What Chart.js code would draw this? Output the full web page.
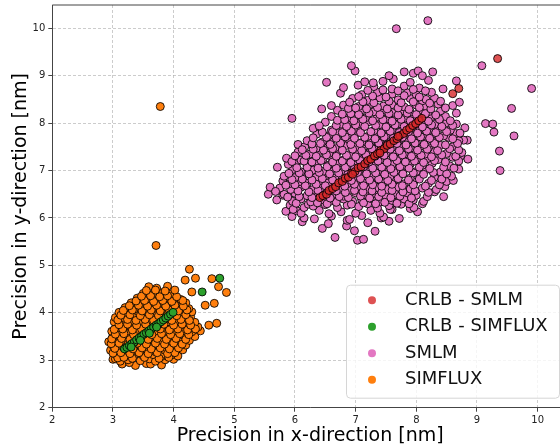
<!DOCTYPE html>
<html>

<head>
    <title>Precision scatter</title>
    <script src="https://cdn.jsdelivr.net/npm/chart.js"></script>
    <style>
        body {
            margin: 0;
            background: #fff;
        }

        .wrap {
            width: 560px;
            height: 447px;
            overflow: hidden;
        }
    </style>
</head>

<body>
    <div class="wrap">
        <canvas id="precisionChart" width="573" height="447"></canvas>
    </div>

    <script>
        const xTicks = [2, 3, 4, 5, 6, 7, 8, 9, 10];
        const yTicks = [2, 3, 4, 5, 6, 7, 8, 9, 10];
        const seriesNames = ["CRLB - SMLM", "CRLB - SIMFLUX", "SMLM", "SIMFLUX"];
        const seriesColors = ["rgba(214, 39, 40, 0.8)", "#2ca02c", "#e377c2", "#ff7f0e"];

        // [x precision, y precision] in nm
        const crlbSmlm = [
            [6.41, 6.43], [6.46, 6.47], [6.52, 6.50], [6.56, 6.58], [6.62, 6.62], [6.67, 6.66], [6.72, 6.74],
            [6.78, 6.77], [6.83, 6.84], [6.88, 6.86], [6.93, 6.94], [6.99, 6.98], [7.04, 7.06], [7.09, 7.08],
            [7.15, 7.14], [7.20, 7.21], [7.25, 7.24], [7.31, 7.31], [7.36, 7.35], [7.41, 7.42], [7.47, 7.46],
            [7.52, 7.53], [7.57, 7.56], [7.63, 7.63], [7.68, 7.67], [7.73, 7.74], [7.79, 7.78], [7.84, 7.85],
            [7.89, 7.89], [7.94, 7.95], [7.99, 7.99], [8.04, 8.05], [8.09, 8.10], [6.95, 6.92], [7.40, 7.37],
            [7.70, 7.72], [8.60, 8.62], [8.70, 8.73], [9.34, 9.36]
        ];

        const crlbSimflux = [
            [3.19, 3.24], [3.23, 3.27], [3.27, 3.31], [3.31, 3.35], [3.35, 3.38], [3.39, 3.43], [3.43, 3.47],
            [3.47, 3.50], [3.51, 3.55], [3.55, 3.58], [3.59, 3.62], [3.63, 3.66], [3.67, 3.70], [3.71, 3.74],
            [3.75, 3.77], [3.79, 3.81], [3.83, 3.85], [3.87, 3.89], [3.91, 3.93], [3.95, 3.97], [3.99, 4.01],
            [3.30, 3.28], [3.45, 3.42], [3.60, 3.57], [3.72, 3.70], [4.47, 4.44], [4.76, 4.73]
        ];

        const smlm = [
            [6.66, 5.59], [7.03, 5.53], [7.13, 5.55],
            [6.45, 5.78], [6.98, 5.73], [7.32, 5.72], [6.85, 5.83],
            [6.12, 5.92], [6.55, 5.88], [6.86, 5.95], [7.20, 5.90], [7.55, 5.93], [7.42, 6.00],
            [5.95, 6.03], [6.15, 6.00], [6.32, 5.98], [6.60, 6.04], [6.90, 5.97], [7.10, 6.05], [7.46, 6.02], [7.72, 5.99], [7.90, 6.20],
            [5.85, 6.14], [6.03, 6.15], [6.10, 6.10], [6.40, 6.16], [6.56, 6.09], [6.76, 6.13], [7.00, 6.10], [7.25, 6.16], [7.40, 6.10], [7.60, 6.18], [8.02, 6.13], [7.57, 6.18],
            [5.92, 6.27], [5.97, 6.18], [6.15, 6.22], [6.22, 6.29], [6.30, 6.25], [6.50, 6.28], [6.70, 6.22], [6.86, 6.27], [7.05, 6.24], [7.20, 6.30], [7.36, 6.21], [7.55, 6.26], [7.75, 6.29], [7.96, 6.22], [8.10, 6.30],
            [5.70, 6.38], [5.96, 6.35], [6.10, 6.40], [6.26, 6.34], [6.45, 6.39], [6.60, 6.36], [6.80, 6.40], [6.95, 6.35], [7.10, 6.38], [7.26, 6.41], [7.41, 6.34], [7.60, 6.37], [7.80, 6.40], [7.95, 6.38], [8.12, 6.35], [8.45, 6.45],
            [5.56, 6.50], [5.59, 6.65], [5.80, 6.48], [5.82, 6.50], [6.00, 6.52], [6.20, 6.47], [6.35, 6.53], [6.50, 6.49], [6.65, 6.51], [6.80, 6.46], [7.00, 6.53], [7.16, 6.49], [7.30, 6.52], [7.50, 6.47], [7.66, 6.50], [7.85, 6.53], [8.00, 6.48], [8.30, 6.55],
            [5.75, 6.63], [5.93, 6.60], [6.10, 6.65], [6.30, 6.60], [6.45, 6.64], [6.60, 6.58], [6.75, 6.63], [6.90, 6.60], [7.06, 6.66], [7.20, 6.61], [7.36, 6.64], [7.52, 6.60], [7.70, 6.65], [7.90, 6.61], [8.10, 6.63], [8.33, 6.60], [8.47, 6.66],
            [5.80, 6.78], [5.90, 6.72], [6.06, 6.76], [6.20, 6.73], [6.40, 6.78], [6.55, 6.74], [6.70, 6.77], [6.86, 6.72], [7.00, 6.76], [7.15, 6.73], [7.31, 6.78], [7.45, 6.74], [7.62, 6.77], [7.80, 6.72], [7.96, 6.76], [8.20, 6.73], [8.50, 6.77], [8.61, 6.79],
            [5.82, 6.88], [6.00, 6.85], [6.15, 6.90], [6.35, 6.86], [6.50, 6.89], [6.66, 6.84], [6.80, 6.90], [6.96, 6.86], [7.10, 6.89], [7.26, 6.85], [7.40, 6.90], [7.56, 6.86], [7.71, 6.88], [7.90, 6.84], [8.05, 6.90], [8.30, 6.86], [8.58, 6.88],
            [5.96, 7.02], [6.10, 6.97], [6.30, 7.01], [6.46, 6.98], [6.60, 7.03], [6.76, 6.97], [6.90, 7.01], [7.05, 6.98], [7.20, 7.03], [7.36, 6.97], [7.50, 7.02], [7.66, 6.99], [7.80, 7.03], [8.00, 6.98], [8.16, 7.02], [8.40, 6.97], [8.70, 7.03], [9.38, 7.00],
            [5.71, 7.07], [5.89, 7.13], [6.02, 7.14], [6.20, 7.10], [6.36, 7.15], [6.55, 7.11], [6.70, 7.14], [6.86, 7.09], [7.00, 7.13], [7.15, 7.10], [7.30, 7.15], [7.46, 7.10], [7.60, 7.13], [7.76, 7.09], [7.90, 7.14], [8.10, 7.11], [8.26, 7.15], [8.55, 7.10],
            [5.86, 7.26], [6.10, 7.22], [6.30, 7.27], [6.46, 7.23], [6.60, 7.28], [6.80, 7.22], [6.95, 7.26], [7.10, 7.23], [7.25, 7.28], [7.40, 7.22], [7.56, 7.27], [7.70, 7.23], [7.86, 7.27], [8.00, 7.22], [8.20, 7.26], [8.36, 7.23], [8.60, 7.28], [8.73, 7.30], [8.85, 7.24],
            [6.05, 7.39], [6.25, 7.35], [6.40, 7.40], [6.56, 7.36], [6.70, 7.39], [6.90, 7.34], [7.05, 7.38], [7.20, 7.35], [7.35, 7.40], [7.50, 7.36], [7.66, 7.39], [7.80, 7.34], [7.96, 7.38], [8.15, 7.35], [8.30, 7.40], [8.50, 7.36], [8.75, 7.38], [9.37, 7.41],
            [6.05, 7.55], [6.16, 7.50], [6.35, 7.47], [6.50, 7.52], [6.66, 7.48], [6.85, 7.53], [7.00, 7.49], [7.16, 7.52], [7.30, 7.47], [7.46, 7.53], [7.60, 7.49], [7.76, 7.52], [7.90, 7.47], [8.06, 7.51], [8.20, 7.48], [8.40, 7.53], [8.60, 7.50], [8.84, 7.64], [8.78, 7.64],
            [6.20, 7.63], [6.45, 7.60], [6.60, 7.65], [6.76, 7.61], [6.90, 7.64], [7.10, 7.59], [7.26, 7.63], [7.40, 7.60], [7.56, 7.65], [7.70, 7.61], [7.86, 7.64], [8.00, 7.59], [8.16, 7.63], [8.30, 7.60], [8.53, 7.70], [8.70, 7.63], [9.61, 7.73],
            [6.36, 7.77], [6.55, 7.73], [6.70, 7.78], [6.86, 7.74], [7.00, 7.77], [7.20, 7.72], [7.36, 7.76], [7.50, 7.73], [7.66, 7.78], [7.80, 7.74], [7.96, 7.77], [8.10, 7.72], [8.26, 7.76], [8.45, 7.73], [8.65, 7.78], [9.28, 7.81],
            [6.30, 7.89], [6.60, 7.85], [6.80, 7.90], [6.96, 7.86], [7.10, 7.89], [7.30, 7.84], [7.46, 7.88], [7.60, 7.85], [7.76, 7.90], [7.90, 7.86], [8.06, 7.89], [8.20, 7.84], [8.36, 7.88], [8.56, 7.85], [8.80, 7.90],
            [6.50, 8.02], [6.76, 7.98], [6.90, 8.03], [7.06, 7.99], [7.20, 8.02], [7.40, 7.97], [7.56, 8.01], [7.70, 7.98], [7.86, 8.03], [8.00, 7.99], [8.16, 8.02], [8.30, 7.97], [8.50, 8.01], [8.66, 7.98], [9.14, 7.99], [9.26, 7.98],
            [5.95, 8.10], [6.60, 8.14], [6.86, 8.10], [7.00, 8.15], [7.16, 8.11], [7.36, 8.14], [7.50, 8.09], [7.66, 8.13], [7.80, 8.10], [7.96, 8.15], [8.10, 8.11], [8.26, 8.14], [8.48, 8.14], [8.66, 8.21],
            [6.70, 8.27], [6.95, 8.23], [7.10, 8.28], [7.30, 8.24], [7.46, 8.27], [7.60, 8.22], [7.76, 8.26], [7.90, 8.23], [8.06, 8.28], [8.20, 8.24], [8.40, 8.26], [6.44, 8.30], [9.57, 8.31],
            [6.60, 8.37], [6.80, 8.38], [7.05, 8.35], [7.25, 8.40], [7.46, 8.36], [7.60, 8.39], [7.80, 8.34], [8.00, 8.38], [8.16, 8.35], [8.36, 8.40], [8.60, 8.37], [8.71, 8.44],
            [6.95, 8.52], [7.20, 8.48], [7.40, 8.53], [7.70, 8.49], [7.90, 8.52], [8.10, 8.47], [8.16, 8.50], [8.30, 8.53],
            [6.75, 8.63], [7.10, 8.60], [7.36, 8.65], [7.60, 8.61], [7.85, 8.64], [8.00, 8.60], [8.25, 8.65],
            [6.80, 8.75], [7.04, 8.80], [7.30, 8.77], [7.60, 8.72], [7.80, 8.78], [8.05, 8.74], [8.44, 8.72], [9.90, 8.73],
            [6.52, 8.86], [7.15, 8.87], [7.29, 8.85], [7.45, 8.88], [7.62, 8.93], [7.90, 8.86], [8.20, 8.90], [8.66, 8.89],
            [6.99, 9.10], [7.55, 9.00], [7.80, 9.08], [7.95, 9.05], [8.03, 9.10], [8.27, 9.08], [8.10, 9.00],
            [6.93, 9.21], [9.08, 9.21], [7.67, 9.99], [8.19, 10.16],
            // denser core
            [6.02, 6.31], [6.37, 6.32], [6.53, 6.30], [6.68, 6.33], [6.93, 6.29], [7.13, 6.32], [7.33, 6.30], [7.48, 6.33], [7.68, 6.31], [7.88, 6.30],
            [5.88, 6.44], [6.07, 6.45], [6.28, 6.43], [6.42, 6.46], [6.58, 6.42], [6.73, 6.45], [6.88, 6.43], [7.08, 6.46], [7.23, 6.42], [7.38, 6.45], [7.58, 6.43], [7.73, 6.46], [7.92, 6.42], [8.18, 6.45],
            [5.68, 6.56], [6.05, 6.57], [6.23, 6.55], [6.38, 6.58], [6.53, 6.55], [6.68, 6.57], [6.83, 6.54], [6.98, 6.58], [7.12, 6.55], [7.27, 6.57], [7.43, 6.54], [7.60, 6.58], [7.78, 6.55], [7.98, 6.57], [8.20, 6.54],
            [5.85, 6.69], [6.00, 6.70], [6.17, 6.68], [6.35, 6.71], [6.50, 6.68], [6.67, 6.70], [6.82, 6.67], [6.98, 6.71], [7.13, 6.68], [7.28, 6.70], [7.43, 6.67], [7.60, 6.71], [7.77, 6.68], [7.95, 6.70], [8.15, 6.67], [8.38, 6.70],
            [5.95, 6.81], [6.12, 6.82], [6.28, 6.80], [6.45, 6.83], [6.62, 6.80], [6.78, 6.82], [6.93, 6.79], [7.08, 6.83], [7.23, 6.80], [7.38, 6.82], [7.53, 6.79], [7.70, 6.83], [7.87, 6.80], [8.05, 6.82], [8.25, 6.79], [8.42, 6.82],
            [5.90, 6.94], [6.07, 6.95], [6.23, 6.93], [6.40, 6.96], [6.57, 6.93], [6.72, 6.95], [6.87, 6.92], [7.03, 6.96], [7.18, 6.93], [7.33, 6.95], [7.48, 6.92], [7.63, 6.96], [7.78, 6.93], [7.95, 6.95], [8.12, 6.92], [8.28, 6.96], [8.50, 6.93],
            [6.03, 7.06], [6.20, 7.07], [6.38, 7.05], [6.53, 7.08], [6.68, 7.05], [6.83, 7.07], [6.98, 7.04], [7.13, 7.08], [7.28, 7.05], [7.43, 7.07], [7.58, 7.04], [7.73, 7.08], [7.88, 7.05], [8.05, 7.07], [8.22, 7.04], [8.45, 7.07], [8.62, 7.05],
            [5.95, 7.19], [6.15, 7.20], [6.28, 7.18], [6.43, 7.21], [6.62, 7.18], [6.78, 7.20], [6.92, 7.17], [7.07, 7.21], [7.22, 7.18], [7.37, 7.20], [7.52, 7.17], [7.68, 7.21], [7.82, 7.18], [7.97, 7.20], [8.12, 7.17], [8.30, 7.21], [8.48, 7.18], [8.70, 7.20],
            [6.00, 7.31], [6.18, 7.32], [6.35, 7.30], [6.52, 7.33], [6.68, 7.30], [6.85, 7.32], [7.00, 7.29], [7.17, 7.33], [7.32, 7.30], [7.47, 7.32], [7.62, 7.29], [7.77, 7.33], [7.92, 7.30], [8.08, 7.32], [8.25, 7.29], [8.42, 7.33], [8.65, 7.30],
            [6.12, 7.44], [6.30, 7.45], [6.47, 7.43], [6.62, 7.46], [6.78, 7.43], [6.95, 7.45], [7.10, 7.42], [7.27, 7.46], [7.42, 7.43], [7.57, 7.45], [7.72, 7.42], [7.87, 7.46], [8.02, 7.43], [8.18, 7.45], [8.35, 7.42], [8.55, 7.46], [8.70, 7.43],
            [6.28, 7.56], [6.42, 7.57], [6.58, 7.55], [6.75, 7.58], [6.92, 7.55], [7.07, 7.57], [7.22, 7.54], [7.38, 7.58], [7.53, 7.55], [7.68, 7.57], [7.83, 7.54], [7.98, 7.58], [8.13, 7.55], [8.30, 7.57], [8.48, 7.54], [8.68, 7.57],
            [6.30, 7.69], [6.52, 7.70], [6.68, 7.68], [6.83, 7.71], [6.98, 7.68], [7.15, 7.70], [7.32, 7.67], [7.47, 7.71], [7.62, 7.68], [7.77, 7.70], [7.92, 7.67], [8.07, 7.71], [8.22, 7.68], [8.38, 7.70], [8.60, 7.67],
            [6.45, 7.81], [6.62, 7.82], [6.78, 7.80], [6.93, 7.83], [7.08, 7.80], [7.25, 7.82], [7.42, 7.79], [7.57, 7.83], [7.72, 7.80], [7.87, 7.82], [8.02, 7.79], [8.17, 7.83], [8.32, 7.80], [8.50, 7.82], [8.72, 7.79],
            [6.40, 7.94], [6.68, 7.95], [6.85, 7.93], [7.00, 7.96], [7.15, 7.93], [7.33, 7.95], [7.50, 7.92], [7.65, 7.96], [7.80, 7.93], [7.95, 7.95], [8.10, 7.92], [8.25, 7.96], [8.42, 7.93], [8.60, 7.95],
            [6.70, 8.06], [6.82, 8.07], [6.97, 8.05], [7.12, 8.08], [7.28, 8.05], [7.45, 8.07], [7.60, 8.04], [7.75, 8.08], [7.90, 8.05], [8.05, 8.07], [8.20, 8.04], [8.38, 8.08], [8.56, 8.05],
            [6.78, 8.19], [6.92, 8.20], [7.05, 8.18], [7.22, 8.21], [7.40, 8.18], [7.55, 8.20], [7.70, 8.17], [7.85, 8.21], [8.00, 8.18], [8.15, 8.20], [8.32, 8.17],
            [6.88, 8.31], [7.00, 8.32], [7.18, 8.30], [7.36, 8.33], [7.52, 8.30], [7.70, 8.32], [7.88, 8.29], [8.05, 8.33], [8.24, 8.30], [8.48, 8.32],
            [6.90, 8.44], [7.12, 8.45], [7.30, 8.43], [7.55, 8.46], [7.75, 8.43], [7.95, 8.45], [8.22, 8.42], [8.40, 8.46],
            [7.05, 8.56], [7.28, 8.57], [7.50, 8.55], [7.80, 8.58], [8.05, 8.55],
            [7.20, 8.69], [7.45, 8.70], [7.70, 8.68], [7.95, 8.71], [8.15, 8.68]
        ];

        const simflux = [
            [3.15, 2.92], [3.37, 2.89], [3.55, 2.93], [3.62, 2.92], [3.80, 2.90], [3.27, 2.95],
            [3.00, 3.02], [3.04, 3.03], [3.12, 2.98], [3.25, 3.01], [3.45, 2.99], [3.60, 3.03], [3.70, 2.98], [3.86, 3.01], [4.00, 3.02],
            [3.05, 3.12], [3.20, 3.08], [3.35, 3.11], [3.50, 3.09], [3.66, 3.12], [3.80, 3.08], [3.84, 3.13], [3.96, 3.11], [4.07, 3.09],
            [2.96, 3.21], [3.10, 3.18], [3.25, 3.22], [3.40, 3.19], [3.56, 3.22], [3.70, 3.18], [3.86, 3.21], [4.00, 3.19], [4.15, 3.22],
            [3.00, 3.31], [3.15, 3.28], [3.30, 3.32], [3.46, 3.29], [3.60, 3.32], [3.76, 3.28], [3.90, 3.31], [4.05, 3.29], [4.20, 3.32],
            [2.93, 3.39], [3.05, 3.42], [3.20, 3.38], [3.36, 3.41], [3.50, 3.39], [3.66, 3.42], [3.80, 3.38], [3.96, 3.41], [4.10, 3.39], [4.26, 3.42],
            [3.00, 3.51], [3.12, 3.48], [3.28, 3.52], [3.42, 3.49], [3.58, 3.52], [3.72, 3.48], [3.88, 3.51], [4.02, 3.49], [4.18, 3.52], [4.35, 3.50],
            [2.98, 3.61], [3.10, 3.58], [3.25, 3.62], [3.40, 3.59], [3.55, 3.62], [3.70, 3.58], [3.85, 3.61], [4.00, 3.59], [4.15, 3.62], [4.30, 3.60], [4.44, 3.62],
            [3.05, 3.71], [3.18, 3.68], [3.32, 3.72], [3.48, 3.69], [3.62, 3.72], [3.78, 3.68], [3.92, 3.71], [4.08, 3.69], [4.22, 3.72], [4.40, 3.70], [4.58, 3.74],
            [3.02, 3.81], [3.15, 3.78], [3.30, 3.82], [3.45, 3.79], [3.60, 3.82], [3.75, 3.78], [3.90, 3.81], [4.05, 3.79], [4.20, 3.82], [4.35, 3.80], [4.71, 3.78],
            [3.04, 3.90], [3.20, 3.88], [3.38, 3.92], [3.52, 3.89], [3.68, 3.92], [3.82, 3.88], [3.98, 3.91], [4.12, 3.89], [4.28, 3.92],
            [3.10, 4.01], [3.25, 3.98], [3.42, 4.02], [3.58, 3.99], [3.72, 4.02], [3.88, 3.98], [4.02, 4.01], [4.15, 3.99], [4.30, 4.02],
            [3.20, 4.11], [3.35, 4.08], [3.50, 4.12], [3.65, 4.09], [3.80, 4.12], [3.95, 4.08], [4.10, 4.11], [4.25, 4.09],
            [3.30, 4.21], [3.45, 4.18], [3.60, 4.22], [3.75, 4.19], [3.90, 4.22], [4.05, 4.18], [4.20, 4.21], [4.52, 4.16], [4.67, 4.20],
            [3.40, 4.31], [3.55, 4.28], [3.70, 4.32], [3.85, 4.29], [4.00, 4.32], [4.12, 4.28],
            [3.50, 4.41], [3.65, 4.38], [3.80, 4.42], [3.95, 4.39], [4.30, 4.44], [4.87, 4.43],
            [3.59, 4.55], [3.72, 4.52], [3.90, 4.56], [4.74, 4.55],
            [4.19, 4.69], [4.36, 4.73], [4.63, 4.72],
            [4.26, 4.92], [3.71, 5.42], [3.78, 8.35],
            // denser core
            [3.08, 3.05], [3.18, 3.06], [3.32, 3.04], [3.52, 3.06], [3.76, 3.04], [3.92, 3.06],
            [3.00, 3.15], [3.13, 3.16], [3.28, 3.14], [3.43, 3.16], [3.58, 3.14], [3.73, 3.16], [3.90, 3.14], [4.02, 3.16],
            [3.03, 3.25], [3.18, 3.26], [3.33, 3.24], [3.48, 3.26], [3.63, 3.24], [3.78, 3.26], [3.93, 3.24], [4.08, 3.26],
            [2.97, 3.35], [3.10, 3.36], [3.25, 3.34], [3.40, 3.36], [3.55, 3.34], [3.70, 3.36], [3.85, 3.34], [4.00, 3.36], [4.14, 3.34],
            [2.98, 3.45], [3.14, 3.46], [3.28, 3.44], [3.43, 3.46], [3.58, 3.44], [3.73, 3.46], [3.88, 3.44], [4.04, 3.46], [4.20, 3.44],
            [3.04, 3.55], [3.18, 3.56], [3.34, 3.54], [3.49, 3.56], [3.64, 3.54], [3.80, 3.56], [3.95, 3.54], [4.10, 3.56], [4.25, 3.54],
            [3.02, 3.65], [3.16, 3.66], [3.32, 3.64], [3.47, 3.66], [3.62, 3.64], [3.78, 3.66], [3.93, 3.64], [4.07, 3.66], [4.23, 3.64], [4.36, 3.66],
            [3.10, 3.75], [3.24, 3.76], [3.39, 3.74], [3.54, 3.76], [3.70, 3.74], [3.84, 3.76], [4.00, 3.74], [4.14, 3.76], [4.28, 3.74],
            [3.08, 3.85], [3.24, 3.86], [3.38, 3.84], [3.53, 3.86], [3.67, 3.84], [3.83, 3.86], [3.97, 3.84], [4.12, 3.86], [4.26, 3.84],
            [3.13, 3.95], [3.28, 3.96], [3.45, 3.94], [3.60, 3.96], [3.75, 3.94], [3.90, 3.96], [4.05, 3.94], [4.20, 3.96],
            [3.17, 4.05], [3.32, 4.06], [3.48, 4.04], [3.63, 4.06], [3.78, 4.04], [3.93, 4.06], [4.08, 4.04], [4.22, 4.06],
            [3.27, 4.15], [3.42, 4.16], [3.57, 4.14], [3.72, 4.16], [3.87, 4.14], [4.02, 4.16], [4.16, 4.14],
            [3.38, 4.25], [3.52, 4.26], [3.67, 4.24], [3.82, 4.26], [3.97, 4.24], [4.15, 4.26],
            [3.47, 4.35], [3.62, 4.36], [3.77, 4.34], [3.90, 4.36], [4.05, 4.34],
            [3.55, 4.47], [3.70, 4.48], [3.86, 4.46], [4.02, 4.48]
        ];

        const seriesData = [crlbSmlm, crlbSimflux, smlm, simflux];

        // legend box in the lower right corner of the plot area
        const cornerLegend = {
            id: "cornerLegend",
            afterDraw(chart) {
                const { ctx, chartArea } = chart;
                const w = 213, h = 113;
                const x0 = chartArea.right - 9 - w;
                const y0 = chartArea.bottom - 10 - h;
                ctx.save();
                ctx.beginPath();
                ctx.roundRect(x0 + 0.5, y0 + 0.5, w, h, 4);
                ctx.fillStyle = "rgba(255, 255, 255, 0.8)";
                ctx.fill();
                ctx.strokeStyle = "#d6d6d6";
                ctx.lineWidth = 1;
                ctx.stroke();
                ctx.font = "18px 'DejaVu Sans'";
                ctx.textBaseline = "middle";
                seriesNames.forEach((name, i) => {
                    const y = y0 + 15.5 + i * 26.5;
                    ctx.beginPath();
                    ctx.arc(x0 + 26, y, 4, 0, Math.PI * 2);
                    ctx.fillStyle = seriesColors[i];
                    ctx.fill();
                    ctx.fillStyle = "#111";
                    ctx.fillText(name, x0 + 59, y);
                });
                ctx.restore();
            }
        };

        // top spine of the axes box
        const topSpine = {
            id: "topSpine",
            afterDraw(chart) {
                const { ctx, chartArea } = chart;
                ctx.save();
                ctx.strokeStyle = "#444";
                ctx.lineWidth = 1;
                ctx.beginPath();
                ctx.moveTo(chartArea.left, chartArea.top);
                ctx.lineTo(chartArea.right, chartArea.top);
                ctx.stroke();
                ctx.restore();
            }
        };

        const gridOpts = {
            color: "rgba(170, 170, 170, 0.75)",
            lineWidth: 0.8,
            tickLength: 4,
            tickColor: "#444",
            tickWidth: 1
        };

        // fixed axis sizes, no extra room kept for edge labels
        function fixBox(s, size) {
            if (s.isHorizontal()) s.height = size; else s.width = size;
            s.paddingLeft = 0;
            s.paddingRight = 0;
            s.paddingTop = 0;
            s.paddingBottom = 0;
        }

        new Chart(document.getElementById("precisionChart"), {
            type: "scatter",
            data: {
                datasets: seriesData.map((pts, i) => ({
                    label: seriesNames[i],
                    data: pts.map(p => ({ x: p[0], y: p[1] })),
                    backgroundColor: seriesColors[i],
                    borderColor: "rgba(0, 0, 0, 0.85)",
                    borderWidth: 1,
                    pointRadius: 4,
                    pointHoverRadius: 4
                }))
            },
            options: {
                responsive: false,
                animation: false,
                layout: { padding: { top: 4.3, right: 0, left: 0, bottom: 0 } },
                plugins: {
                    legend: { display: false },
                    tooltip: { enabled: false }
                },
                scales: {
                    x: {
                        type: "linear",
                        min: 2,
                        max: 10.5,
                        afterBuildTicks: s => { s.ticks = xTicks.map(v => ({ value: v })); },
                        afterFit: s => fixBox(s, 39.3),
                        grid: gridOpts,
                        border: { color: "#444", width: 1, dash: [3, 2] },
                        ticks: {
                            autoSkip: false,
                            maxRotation: 0,
                            padding: 3,
                            color: "#222",
                            font: { family: "DejaVu Sans", size: 10 }
                        },
                        title: {
                            display: true,
                            text: "Precision in x-direction [nm]",
                            color: "#000",
                            padding: { top: 0, bottom: 0 },
                            font: { family: "DejaVu Sans", size: 19 }
                        }
                    },
                    y: {
                        type: "linear",
                        min: 2,
                        max: 10.49,
                        afterBuildTicks: s => { s.ticks = yTicks.map(v => ({ value: v })); },
                        afterFit: s => fixBox(s, 52.3),
                        grid: gridOpts,
                        border: { color: "#444", width: 1, dash: [3, 2] },
                        ticks: {
                            autoSkip: false,
                            padding: 3,
                            color: "#222",
                            font: { family: "DejaVu Sans", size: 10 }
                        },
                        title: {
                            display: true,
                            text: "Precision in y-direction [nm]",
                            color: "#000",
                            padding: { top: 9.5, bottom: 0 },
                            font: { family: "DejaVu Sans", size: 19 }
                        }
                    }
                }
            },
            plugins: [cornerLegend, topSpine]
        });
    </script>
</body>

</html>
